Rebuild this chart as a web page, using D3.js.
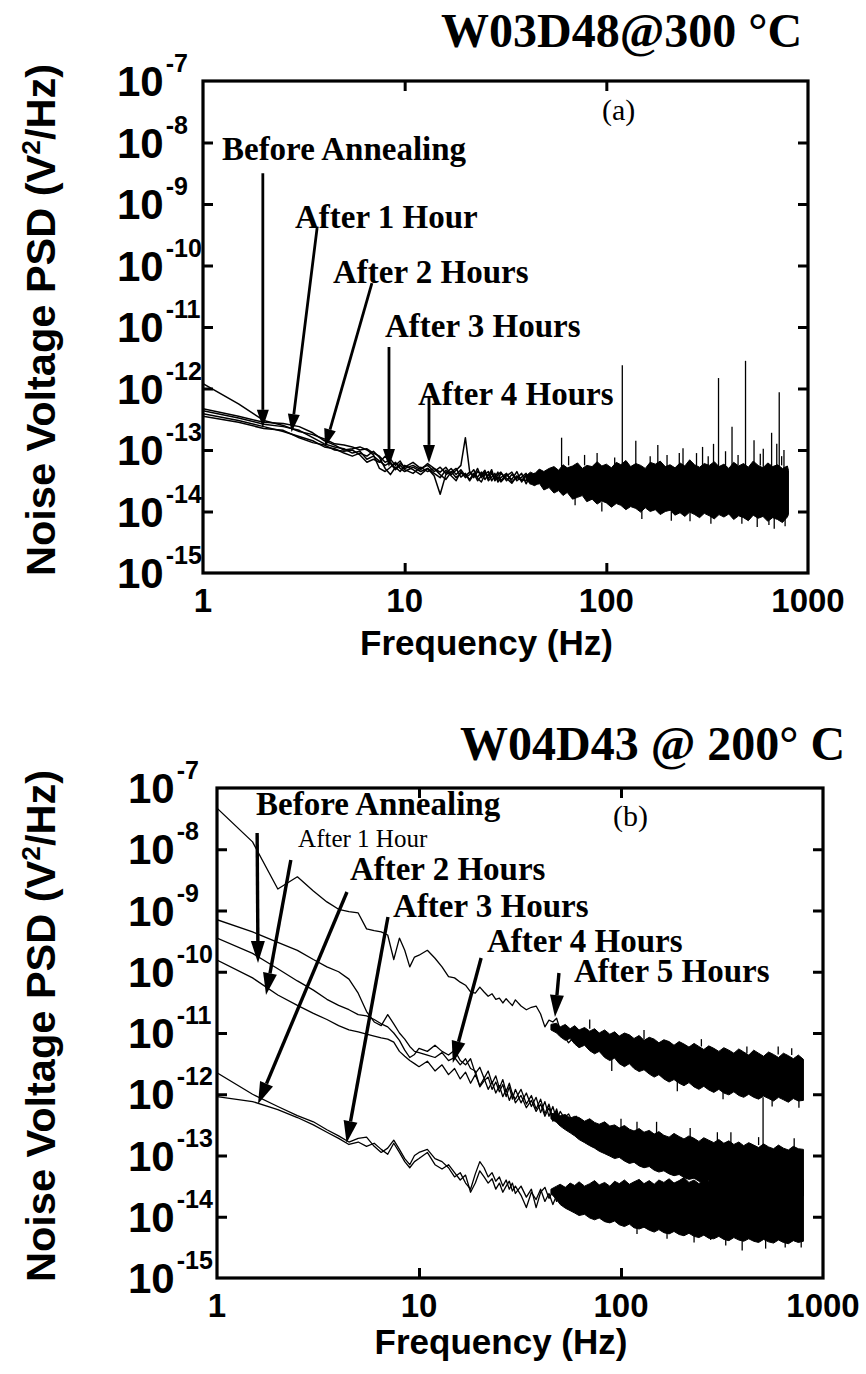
<!DOCTYPE html>
<html>
<head>
<meta charset="utf-8">
<script src="https://cdn.jsdelivr.net/npm/d3@7"></script>
<style>
  body { margin: 0; background: #fff; }
  svg { display: block; }
</style>
</head>
<body>
<svg id="fig" width="866" height="1374"></svg>
<script>
// All PSD values are stored as log10(V^2/Hz).

// ── panel (a): W03D48 @ 300 °C ──
const gridA = [1, 1.5, 2, 2.5, 3, 3.5, 4, 4.5, 5, 5.5, 6, 6.5, 7, 7.5, 8, 8.5, 9, 9.5, 10,
  11, 12, 13, 14, 15, 16, 17, 18, 19, 20, 21, 22, 23, 24, 25, 26, 27, 28, 29, 30,
  32, 34, 36, 38, 40, 42, 44, 46, 48, 50]

const aBefore = [-12.36, -12.48, -12.58, -12.62, -12.68, -12.8, -12.9, -12.95, -12.98, -13.05, -13.02, -13.15, -13.1, -13.18, -13.25, -13.2, -13.3, -13.22, -13.28,
  -13.2, -13.3, -13.25, -13.35, -13.28, -13.38, -13.3, -13.4, -13.32, -13.42, -13.36, -13.45, -13.35, -13.4, -13.33, -13.47, -13.38, -13.44, -13.36, -13.5,
  -13.4, -13.48, -13.35, -13.52, -13.42, -13.5, -13.38, -13.55, -13.45, -13.5]
const a1h = [-11.92, -12.25, -12.52, -12.6, -12.7, -12.75, -12.82, -12.9, -12.92, -12.95, -13.0, -12.98, -13.05, -13.1, -13.2, -13.15, -13.25, -13.18, -13.3,
  -13.25, -13.32, -13.22, -13.3, -13.36, -13.28, -13.4, -13.33, -13.25, -12.8, -13.35, -13.42, -13.3, -13.45, -13.38, -13.42, -13.32, -13.48, -13.4, -13.36,
  -13.5, -13.4, -13.46, -13.38, -13.55, -13.42, -13.48, -13.4, -13.52, -13.44]
const a2h = [-12.33, -12.45, -12.55, -12.57, -12.62, -12.72, -12.85, -12.92, -13.0, -12.98, -12.95, -13.0, -13.08, -13.3, -13.35, -13.28, -13.2, -13.3, -13.35,
  -13.28, -13.35, -13.3, -13.42, -13.72, -13.4, -13.35, -13.45, -13.38, -13.4, -13.48, -13.38, -13.5, -13.42, -13.36, -13.5, -13.44, -13.38, -13.52, -13.45,
  -13.38, -13.52, -13.44, -13.5, -13.4, -13.55, -13.47, -13.42, -13.56, -13.48]
const a3h = [-12.41, -12.52, -12.62, -12.7, -12.78, -12.85, -12.95, -12.98, -13.05, -13.1, -13.05, -13.1, -13.02, -13.12, -13.3, -13.4, -13.28, -13.35, -13.25,
  -13.32, -13.4, -13.3, -13.38, -13.45, -13.33, -13.42, -13.5, -13.35, -13.45, -13.4, -13.32, -13.46, -13.52, -13.4, -13.35, -13.5, -13.42, -13.48, -13.38,
  -13.46, -13.54, -13.42, -13.48, -13.5, -13.4, -13.56, -13.46, -13.5, -13.42]
const a4h = [-12.45, -12.55, -12.65, -12.68, -12.8, -12.88, -12.92, -13.0, -13.02, -13.0, -13.08, -13.2, -13.15, -13.2, -13.1, -13.22, -13.32, -13.25, -13.32,
  -13.38, -13.28, -13.35, -13.3, -13.4, -13.48, -13.36, -13.3, -13.44, -13.38, -13.5, -13.4, -13.44, -13.36, -13.48, -13.4, -13.36, -13.5, -13.44, -13.52,
  -13.42, -13.36, -13.5, -13.44, -13.38, -13.52, -13.44, -13.5, -13.4, -13.54]

// dense noise above ~40 Hz: upper / lower edge of the black band
const bandAFreq = [40, 42, 44, 46.5, 49, 52, 55, 58, 61, 64, 68, 72, 76, 80, 85, 90, 95, 100, 106, 112,
  118, 125, 132, 140, 148, 156, 165, 175, 185, 196, 207, 219, 232, 245, 259, 274, 290, 306, 324, 343,
  362, 383, 405, 428, 453, 479, 506, 535, 566, 598, 632, 668, 706, 747, 790, 800]
const bandATop = [-13.42, -13.36, -13.39, -13.31, -13.35, -13.3, -13.27, -13.33, -13.24, -13.29, -13.26, -13.21, -13.3, -13.25, -13.27, -13.19, -13.26, -13.23, -13.29, -13.2,
  -13.24, -13.17, -13.27, -13.22, -13.25, -13.3, -13.2, -13.23, -13.18, -13.27, -13.24, -13.29, -13.21, -13.26, -13.16, -13.24, -13.28, -13.22, -13.25, -13.19,
  -13.27, -13.23, -13.3, -13.2, -13.26, -13.22, -13.28, -13.18, -13.25, -13.29, -13.21, -13.27, -13.24, -13.3, -13.26, -13.33]
const bandABot = [-13.48, -13.55, -13.58, -13.54, -13.65, -13.61, -13.7, -13.66, -13.74, -13.69, -13.8, -13.77, -13.74, -13.84, -13.8, -13.88, -13.83, -13.86, -13.93, -13.87,
  -13.9, -13.97, -13.92, -13.95, -14.01, -13.94, -14.0, -13.97, -14.05, -14.0, -13.98, -14.06, -14.02, -14.08, -14.01, -14.05, -14.1, -14.03, -14.07, -14.12,
  -14.05, -14.09, -14.04, -14.13, -14.07, -14.1, -14.15, -14.06, -14.11, -14.08, -14.16, -14.1, -14.13, -14.18, -14.09, -14.05]

// line-frequency spikes and single noise hairs: from -> to
const spikeAFreq = [60, 90, 120, 140, 180, 200, 240, 280, 300, 340, 360, 390, 420, 490, 540, 600, 660, 700, 720, 760,
  65, 78, 110, 165, 230, 320, 450, 580, 740,
  70, 95, 150, 210, 260, 330, 470, 560, 640, 680, 770]
const spikeAFrom = [-13.3, -13.3, -13.3, -13.3, -13.3, -13.3, -13.3, -13.3, -13.3, -13.3, -13.3, -13.3, -13.3, -13.3, -13.3, -13.3, -13.3, -13.3, -13.3, -13.3,
  -13.25, -13.25, -13.25, -13.25, -13.25, -13.25, -13.25, -13.25, -13.25,
  -13.75, -13.85, -13.95, -14.0, -14.0, -14.02, -14.05, -14.08, -14.08, -14.08, -14.08]
const spikeATo = [-12.8, -13.05, -11.62, -12.85, -12.92, -13.08, -12.97, -13.05, -12.95, -12.9, -11.83, -13.02, -12.62, -11.55, -12.84, -12.98, -12.72, -12.9, -12.06, -13.0,
  -13.1, -13.08, -13.12, -13.1, -13.05, -13.1, -13.08, -13.06, -13.1,
  -13.9, -14.0, -14.12, -14.15, -14.16, -14.2, -14.2, -14.25, -14.22, -14.28, -14.24]

// annotations: text anchor (freq, log psd) and arrows (start -> tip)
const notesA = ['Before Annealing', 'After 1 Hour', 'After 2 Hours', 'After 3 Hours', 'After 4 Hours']
const noteAFreq = [1.242, 2.86, 4.41, 7.99, 11.64]
const noteALog = [-8.285, -9.39, -10.285, -11.16, -12.27]
const arrowAFrom = [[1.98, -8.5], [3.68, -9.39], [6.88, -10.285], [8.36, -11.325], [13.2, -12.14]]
const arrowATo = [[1.98, -12.64], [2.75, -12.71], [4.03, -12.95], [8.36, -13.276], [13.2, -13.21]]

// ── panel (b): W04D43 @ 200 °C ──
const gridB = [1, 1.5, 2, 2.5, 3, 3.5, 4, 4.5, 5, 5.5, 6, 6.5, 7, 7.5, 8, 8.5, 9, 9.5, 10,
  11, 12, 13, 14, 15, 16, 17, 18, 19, 20, 21, 22, 23, 24, 25, 26, 27, 28, 29, 30,
  32, 34, 36, 38, 40, 42, 44, 46, 48, 50, 55, 60, 65, 70, 75, 80]

const bTop = [-7.33, -7.88, -8.65, -8.45, -8.68, -8.86, -8.98, -9.02, -9.04, -9.3, -9.33, -9.35, -9.4, -9.8, -9.45, -9.65, -9.92, -9.76, -9.73,
  -9.65, -9.78, -9.92, -10.08, -10.1, -10.17, -10.22, -10.33, -10.35, -10.25, -10.33, -10.4, -10.36, -10.45, -10.43, -10.51, -10.44, -10.5, -10.55, -10.46,
  -10.56, -10.62, -10.58, -10.56, -10.69, -10.9, -10.79, -10.82, -10.76, -10.95, -11.16, -11.03, -10.98, -11.2, -11.08, -11.24]
const bMid1 = [-9.15, -9.35, -9.52, -9.65, -9.8, -9.92, -10.0, -10.12, -10.35, -10.65, -10.82, -10.88, -10.7, -10.85, -11.0, -11.1, -11.22, -11.3, -11.32,
  -11.36, -11.4, -11.32, -11.45, -11.4, -11.52, -11.42, -11.58, -11.62, -11.88, -11.78, -11.72, -11.92, -11.8, -11.96, -11.84, -12.04, -11.88, -12.08, -11.92,
  -12.14, -11.98, -12.2, -12.05, -12.3, -12.12, -12.36, -12.2, -12.42, -12.28, -12.5, -12.36, -12.6, -12.45, -12.66, -12.55]
const bMid2 = [-9.45, -9.7, -9.95, -10.15, -10.3, -10.45, -10.55, -10.62, -10.7, -10.72, -10.78, -10.85, -10.9, -11.0, -11.12, -11.28, -11.4, -11.35, -11.25,
  -11.3, -11.2, -11.3, -11.36, -11.28, -11.45, -11.52, -11.42, -11.66, -11.56, -11.74, -11.62, -11.82, -11.7, -11.9, -11.76, -11.96, -11.82, -12.0, -12.08,
  -11.92, -12.16, -12.02, -12.24, -12.08, -12.32, -12.16, -12.4, -12.24, -12.45, -12.32, -12.56, -12.44, -12.64, -12.52, -12.7]
const bMid3 = [-9.81, -10.1, -10.38, -10.55, -10.68, -10.78, -10.88, -10.95, -10.98, -11.02, -11.05, -11.08, -11.1, -11.15, -11.3, -11.38, -11.45, -11.5, -11.55,
  -11.46, -11.62, -11.52, -11.68, -11.58, -11.75, -11.64, -11.82, -11.68, -11.86, -11.74, -11.92, -11.8, -11.98, -11.86, -12.04, -11.92, -12.1, -11.98, -12.14,
  -12.02, -12.22, -12.1, -12.28, -12.16, -12.36, -12.22, -12.44, -12.3, -12.48, -12.38, -12.58, -12.46, -12.68, -12.56, -12.74]
const bLow1 = [-11.65, -12.0, -12.2, -12.35, -12.45, -12.58, -12.68, -12.78, -12.72, -12.7, -12.85, -12.95, -12.88, -12.75, -12.9, -13.05, -13.15, -13.0, -12.95,
  -12.9, -13.05, -13.1, -13.2, -13.35, -13.28, -13.45, -13.55, -13.3, -13.1, -13.2, -13.35, -13.28, -13.42, -13.35, -13.5, -13.4, -13.55, -13.45, -13.62,
  -13.5, -13.68, -13.55, -13.85, -13.6, -13.52, -13.7, -13.58, -13.75, -13.62, -13.8, -13.6, -13.85, -13.65, -13.9, -13.7]
const bLow2 = [-12.04, -12.12, -12.25, -12.38, -12.5, -12.62, -12.72, -12.82, -12.78, -12.85, -12.8, -12.9, -12.98, -12.8, -12.95, -13.1, -13.2, -13.1, -13.05,
  -12.95, -13.15, -13.22, -13.15, -13.28, -13.4, -13.32, -13.6, -13.45, -13.25, -13.35, -13.45, -13.38, -13.55, -13.45, -13.6, -13.5, -13.42, -13.58, -13.5,
  -13.65, -13.85, -13.6, -13.72, -13.55, -13.75, -13.62, -13.8, -13.65, -13.78, -13.68, -13.85, -13.7, -13.88, -13.72, -13.9]

const bandBFreq = [45, 48, 50, 53, 56, 59, 62, 66, 70, 74, 78, 83, 88, 93, 98, 104, 110, 116, 123, 130,
  138, 146, 154, 163, 173, 183, 194, 205, 217, 230, 243, 257, 272, 288, 305, 323, 342, 362, 383, 405,
  429, 454, 480, 508, 538, 569, 602, 637, 674, 713, 755, 800]
const bandB1Top = [-10.86, -10.84, -10.9, -10.86, -10.93, -10.88, -10.95, -10.91, -10.97, -10.93, -11.0, -10.95, -11.02, -10.98, -11.05, -11.0, -11.03, -11.09, -11.04, -11.12,
  -11.07, -11.1, -11.16, -11.11, -11.14, -11.2, -11.14, -11.18, -11.23, -11.17, -11.22, -11.27, -11.21, -11.25, -11.3, -11.24, -11.28, -11.33, -11.26, -11.31,
  -11.36, -11.28, -11.33, -11.38, -11.31, -11.35, -11.4, -11.33, -11.37, -11.42, -11.36, -11.43]
const bandB1Bot = [-10.95, -11.0, -11.06, -11.12, -11.09, -11.18, -11.24, -11.2, -11.29, -11.34, -11.3, -11.4, -11.45, -11.41, -11.5, -11.55, -11.5, -11.58, -11.63, -11.6,
  -11.67, -11.72, -11.68, -11.75, -11.8, -11.76, -11.82, -11.86, -11.81, -11.88, -11.92, -11.87, -11.93, -11.97, -11.92, -11.98, -12.01, -11.96, -12.02, -12.05,
  -12.0, -12.05, -12.08, -12.03, -12.07, -12.11, -12.05, -12.09, -12.13, -12.07, -12.11, -12.1]
const bandB2Top = [-12.32, -12.3, -12.35, -12.33, -12.39, -12.36, -12.38, -12.44, -12.4, -12.46, -12.49, -12.45, -12.52, -12.5, -12.55, -12.51, -12.57, -12.6, -12.56, -12.62,
  -12.59, -12.65, -12.61, -12.67, -12.7, -12.64, -12.69, -12.73, -12.68, -12.72, -12.77, -12.71, -12.75, -12.79, -12.74, -12.8, -12.76, -12.82, -12.78, -12.84,
  -12.79, -12.83, -12.87, -12.81, -12.86, -12.89, -12.83, -12.88, -12.91, -12.85, -12.89, -12.9]
const bandB2Bot = [-12.4, -12.46, -12.52, -12.58, -12.63, -12.68, -12.74, -12.79, -12.84, -12.88, -12.93, -12.97, -13.01, -13.05, -13.03, -13.09, -13.13, -13.11, -13.17, -13.2,
  -13.18, -13.24, -13.27, -13.25, -13.3, -13.33, -13.31, -13.36, -13.39, -13.37, -13.42, -13.44, -13.41, -13.47, -13.49, -13.46, -13.51, -13.54, -13.5, -13.56,
  -13.58, -13.54, -13.6, -13.62, -13.58, -13.63, -13.65, -13.61, -13.66, -13.68, -13.63, -13.66]
const bandB3Top = [-13.55, -13.5, -13.47, -13.52, -13.45, -13.49, -13.43, -13.5, -13.46, -13.41, -13.48, -13.44, -13.5, -13.42, -13.46, -13.4, -13.47, -13.43, -13.39, -13.46,
  -13.41, -13.47, -13.4, -13.44, -13.38, -13.45, -13.41, -13.36, -13.44, -13.4, -13.46, -13.38, -13.42, -13.36, -13.43, -13.39, -13.34, -13.42, -13.38, -13.44,
  -13.36, -13.4, -13.34, -13.41, -13.37, -13.33, -13.4, -13.36, -13.42, -13.34, -13.38, -13.4]
const bandB3Bot = [-13.62, -13.72, -13.8, -13.86, -13.9, -13.94, -13.98, -13.96, -14.02, -14.05, -14.02, -14.08, -14.1, -14.07, -14.13, -14.16, -14.12, -14.18, -14.2, -14.17,
  -14.22, -14.25, -14.21, -14.26, -14.28, -14.24, -14.29, -14.31, -14.27, -14.32, -14.34, -14.3, -14.35, -14.36, -14.32, -14.37, -14.39, -14.34, -14.38, -14.4,
  -14.36, -14.4, -14.42, -14.37, -14.41, -14.43, -14.38, -14.42, -14.44, -14.39, -14.42, -14.4]

const spikeBFreq = [120, 505, 169, 278, 398, 100, 220, 350, 600,
  70, 130, 250, 420, 700, 90, 190, 320, 560, 760,
  150, 300, 480, 720, 120, 230, 330, 520, 650, 780]
const spikeBFrom = [-12.6, -12.05, -14.2, -14.25, -14.3, -12.55, -12.7, -12.8, -11.35,
  -10.93, -11.1, -11.22, -11.33, -11.36, -11.42, -11.78, -11.94, -12.04, -12.08,
  -12.64, -12.78, -12.83, -12.87, -14.1, -14.3, -14.35, -14.38, -14.4, -14.4]
const spikeBTo = [-12.45, -12.95, -14.36, -14.38, -14.55, -12.4, -12.55, -12.62, -11.22,
  -10.78, -10.95, -11.1, -11.22, -11.25, -11.62, -11.95, -12.08, -12.2, -12.22,
  -12.45, -12.62, -12.7, -12.72, -14.28, -14.42, -14.47, -14.52, -14.5, -14.5]

const notesB = ['Before Annealing', 'After 1 Hour', 'After 2 Hours', 'After 3 Hours', 'After 4 Hours', 'After 5 Hours']
const noteBFreq = [1.56, 2.52, 4.55, 7.44, 21.7, 58.5]
const noteBLog = [-7.44, -7.963, -8.502, -9.106, -9.678, -10.167]
const arrowBFrom = [[1.58, -7.735], [2.32, -8.176], [4.40, -8.698], [7.02, -9.106], [20.3, -9.776], [49.3, -10.02]]
const arrowBTo = [[1.596, -9.857], [1.748, -10.38], [1.596, -12.159], [4.38, -12.796], [14.7, -11.49], [47.1, -10.74]]

const yExps = [-7, -8, -9, -10, -11, -12, -13, -14, -15]
const xTicks = [1, 10, 100, 1000]

const SERIF = "'Liberation Serif', 'Times New Roman', serif"
const SANS = "'Liberation Sans', Arial, sans-serif"
const P = e => Math.pow(10, e)

const svg = d3.select('#fig')

function arrow(g, x1, y1, x2, y2, w, headL, headW) {
  const a = Math.atan2(y2 - y1, x2 - x1)
  const bx = x2 - headL * Math.cos(a), by = y2 - headL * Math.sin(a)
  g.append('line').attr('x1', x1).attr('y1', y1).attr('x2', bx).attr('y2', by)
    .attr('stroke', '#000').attr('stroke-width', w)
  const nx = -Math.sin(a) * headW, ny = Math.cos(a) * headW
  g.append('path')
    .attr('d', `M${x2},${y2}L${bx + nx},${by + ny}L${bx - nx},${by - ny}Z`)
    .attr('fill', '#000')
}

function drawPanel(o) {
  const g = svg.append('g')
  const x = d3.scaleLog().domain([1, 1000]).range([o.left, o.right])
  const y = d3.scaleLog().domain([1e-15, 1e-7]).range([o.bottom, o.top])

  svg.append('clipPath').attr('id', 'clip-' + o.id).append('rect')
    .attr('x', o.left).attr('y', o.top).attr('width', o.right - o.left).attr('height', o.bottom - o.top)
  const plot = g.append('g').attr('clip-path', `url(#clip-${o.id})`)

  // noise bands
  const area = d3.area().x(d => x(d.f)).y0(d => y(P(d.lo))).y1(d => y(P(d.hi)))
  o.bands.forEach(b => {
    const pts = b.freq.map((f, i) => ({ f, hi: b.top[i], lo: b.bot[i] }))
    plot.append('path').datum(pts).attr('d', area)
      .attr('fill', '#000').attr('stroke', '#000').attr('stroke-width', 1)
  })

  // spectra
  const line = d3.line().x(d => x(d[0])).y(d => y(P(d[1])))
  o.curves.forEach(c => {
    plot.append('path').datum(o.grid.map((f, i) => [f, c[i]])).attr('d', line)
      .attr('fill', 'none').attr('stroke', '#000').attr('stroke-width', o.lineW)
      .attr('stroke-linejoin', 'round')
  })

  // spikes
  o.spikes.freq.forEach((f, i) => {
    plot.append('line')
      .attr('x1', x(f)).attr('x2', x(f))
      .attr('y1', y(P(o.spikes.from[i]))).attr('y2', y(P(o.spikes.to[i])))
      .attr('stroke', '#000').attr('stroke-width', 1.3)
  })

  // ticks (inward, on all four sides)
  const tk = 10
  const axes = [
    [d3.axisBottom(x).tickValues([10, 100]).tickSize(-tk), `translate(0,${o.bottom})`],
    [d3.axisTop(x).tickValues([10, 100]).tickSize(-tk), `translate(0,${o.top})`],
    [d3.axisLeft(y).tickValues(yExps.slice(1, -1).map(P)).tickSize(-tk), `translate(${o.left},0)`],
    [d3.axisRight(y).tickValues(yExps.slice(1, -1).map(P)).tickSize(-tk), `translate(${o.right},0)`],
  ]
  axes.forEach(([ax, tr]) => {
    const a = g.append('g').attr('transform', tr).call(ax.tickSizeOuter(0).tickFormat(''))
    a.select('.domain').remove()
    a.selectAll('line').attr('stroke', '#000').attr('stroke-width', 3)
  })

  g.append('rect')
    .attr('x', o.left).attr('y', o.top).attr('width', o.right - o.left).attr('height', o.bottom - o.top)
    .attr('fill', 'none').attr('stroke', '#000').attr('stroke-width', 3.2)

  // y tick labels 10^-n
  yExps.forEach(e => {
    const t = g.append('text').attr('x', o.yLabelX).attr('y', y(P(e)) + 15)
      .attr('font-family', SANS).attr('font-weight', 'bold').attr('font-size', 42)
    t.append('tspan').text('10')
    t.append('tspan').attr('font-size', 25).attr('dx', 2).attr('dy', -24).text(String(e))
  })

  // x tick labels
  xTicks.forEach(v => {
    g.append('text').attr('x', x(v)).attr('y', o.xLabelY)
      .attr('text-anchor', 'middle').attr('font-family', SANS).attr('font-weight', 'bold')
      .attr('font-size', 33).text(v)
  })

  // axis titles
  g.append('text').attr('x', (o.left + o.right) / 2 - 19).attr('y', o.xTitleY)
    .attr('text-anchor', 'middle').attr('font-family', SANS).attr('font-weight', 'bold')
    .attr('font-size', 35).text('Frequency (Hz)')

  const yc = (o.top + o.bottom) / 2 + o.yTitleShift
  const yt = g.append('text')
    .attr('transform', `translate(55,${yc}) rotate(-90)`)
    .attr('text-anchor', 'middle').attr('font-family', SANS).attr('font-weight', 'bold')
    .attr('font-size', 41).attr('textLength', 512).attr('lengthAdjust', 'spacingAndGlyphs')
  yt.append('tspan').text('Noise Voltage PSD (V')
  yt.append('tspan').attr('font-size', 26).attr('dy', -15).text('2')
  yt.append('tspan').attr('dy', 15).text('/Hz)')

  // title and panel letter
  g.append('text').attr('x', o.titleX).attr('y', o.titleY)
    .attr('font-family', SERIF).attr('font-weight', 'bold').attr('font-size', 48).text(o.title)
  g.append('text').attr('x', x(o.letterAt[0])).attr('y', y(P(o.letterAt[1])))
    .attr('font-family', SERIF).attr('font-size', 30).text(o.letter)

  // annotations
  o.notes.forEach((s, i) => {
    const regular = o.regularNote === i
    g.append('text').attr('x', x(o.noteFreq[i])).attr('y', y(P(o.noteLog[i])))
      .attr('font-family', SERIF).attr('font-weight', regular ? 'normal' : 'bold')
      .attr('font-size', regular ? 25 : 33).text(s)
  })
  o.arrowFrom.forEach((p, i) => {
    const q = o.arrowTo[i]
    arrow(g, x(p[0]), y(P(p[1])), x(q[0]), y(P(q[1])), o.arrowW, o.headL, o.headW)
  })
}

drawPanel({
  id: 'a', left: 203, right: 808, top: 81, bottom: 573,
  grid: gridA, curves: [aBefore, a1h, a2h, a3h, a4h], lineW: 1.5,
  bands: [{ freq: bandAFreq, top: bandATop, bot: bandABot }],
  spikes: { freq: spikeAFreq, from: spikeAFrom, to: spikeATo },
  yLabelX: 117, xLabelY: 612, xTitleY: 655, yTitleShift: -7,
  title: 'W03D48@300 °C', titleX: 441, titleY: 47,
  letter: '(a)', letterAt: [95.1, -7.63],
  notes: notesA, noteFreq: noteAFreq, noteLog: noteALog, regularNote: -1,
  arrowFrom: arrowAFrom, arrowTo: arrowATo, arrowW: 2.8, headL: 18, headW: 6
})

drawPanel({
  id: 'b', left: 217, right: 823, top: 788, bottom: 1278,
  grid: gridB, curves: [bTop, bMid1, bMid2, bMid3, bLow1, bLow2], lineW: 1.3,
  bands: [
    { freq: bandBFreq, top: bandB1Top, bot: bandB1Bot },
    { freq: bandBFreq, top: bandB2Top, bot: bandB2Bot },
    { freq: bandBFreq, top: bandB3Top, bot: bandB3Bot }
  ],
  spikes: { freq: spikeBFreq, from: spikeBFrom, to: spikeBTo },
  yLabelX: 128, xLabelY: 1317, xTitleY: 1354, yTitleShift: -7,
  title: 'W04D43 @ 200° C', titleX: 460, titleY: 760,
  letter: '(b)', letterAt: [91.3, -7.62],
  notes: notesB, noteFreq: noteBFreq, noteLog: noteBLog, regularNote: 1,
  arrowFrom: arrowBFrom, arrowTo: arrowBTo, arrowW: 3.4, headL: 22, headW: 7
})
</script>
</body>
</html>
